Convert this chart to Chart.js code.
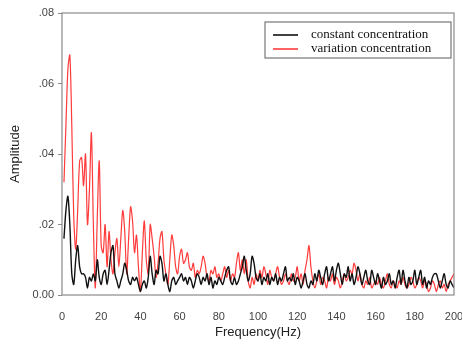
<!DOCTYPE html>
<html lang="en">
<head>
    <meta charset="UTF-8">
    <title>Amplitude spectrum</title>
    <script src="https://cdn.jsdelivr.net/npm/chart.js"></script>
    <style>
        html, body { margin: 0; padding: 0; background: #fff; }
        #wrap { width: 462px; height: 341px; }
    </style>
</head>
<body>
<div id="wrap"><canvas id="spectrumChart" width="462" height="341"></canvas></div>
<script>
// frequency axis (Hz), one point per Hz
const freqs = [];
for (let f = 1; f <= 200; f++) freqs.push(f);

const xTicks = [0, 20, 40, 60, 80, 100, 120, 140, 160, 180, 200];
const yTicks = [0, 0.02, 0.04, 0.06, 0.08];

// amplitude, f = 1..200 Hz
const constantConc = [
    0.016, 0.024, 0.028, 0.020, 0.006, 0.003, 0.010, 0.014, 0.008, 0.006,
    0.006, 0.005, 0.002, 0.005, 0.004, 0.006, 0.004, 0.010, 0.005, 0.003,
    0.006, 0.007, 0.003, 0.007, 0.012, 0.014, 0.006, 0.004, 0.002, 0.004,
    0.006, 0.009, 0.007, 0.004, 0.003, 0.005, 0.004, 0.005, 0.003, 0.001,
    0.003, 0.004, 0.002, 0.005, 0.011, 0.006, 0.003, 0.007, 0.006, 0.011,
    0.009, 0.004, 0.006, 0.003, 0.001, 0.004, 0.005, 0.003, 0.004, 0.005,
    0.006, 0.004, 0.005, 0.003, 0.005, 0.004, 0.002, 0.004, 0.006, 0.005,
    0.003, 0.005, 0.004, 0.006, 0.003, 0.005, 0.002, 0.004, 0.003, 0.005,
    0.004, 0.003, 0.005, 0.007, 0.008, 0.004, 0.003, 0.005, 0.003, 0.004,
    0.006, 0.008, 0.011, 0.007, 0.004, 0.006, 0.011, 0.009, 0.005, 0.004,
    0.006, 0.003, 0.005, 0.004, 0.006, 0.003, 0.005, 0.004, 0.006, 0.003,
    0.005, 0.004, 0.006, 0.008, 0.004, 0.005, 0.004, 0.006, 0.003, 0.005,
    0.004, 0.002, 0.004, 0.006, 0.003, 0.002, 0.004, 0.003, 0.006, 0.004,
    0.007, 0.005, 0.003, 0.006, 0.008, 0.004, 0.006, 0.008, 0.004, 0.007,
    0.009, 0.006, 0.003, 0.006, 0.005, 0.008, 0.004, 0.006, 0.003, 0.005,
    0.008, 0.006, 0.003, 0.005, 0.007, 0.004, 0.003, 0.007, 0.005, 0.003,
    0.006, 0.004, 0.002, 0.005, 0.003, 0.004, 0.006, 0.003, 0.004, 0.002,
    0.005, 0.007, 0.003, 0.007, 0.004, 0.002, 0.005, 0.003, 0.004, 0.007,
    0.003, 0.005, 0.007, 0.003, 0.005, 0.002, 0.004, 0.003, 0.005, 0.006,
    0.006, 0.004, 0.002, 0.004, 0.006, 0.003, 0.002, 0.004, 0.003, 0.002
];

const variationConc = [
    0.032, 0.048, 0.064, 0.068, 0.048, 0.022, 0.013, 0.024, 0.038, 0.039,
    0.031, 0.040, 0.020, 0.030, 0.046, 0.020, 0.002, 0.022, 0.038, 0.014,
    0.012, 0.020, 0.008, 0.018, 0.010, 0.006, 0.012, 0.016, 0.008, 0.016,
    0.024, 0.018, 0.006, 0.016, 0.025, 0.021, 0.012, 0.017, 0.008, 0.001,
    0.012, 0.021, 0.010, 0.006, 0.020, 0.016, 0.011, 0.005, 0.009, 0.016,
    0.018, 0.010, 0.006, 0.003, 0.010, 0.017, 0.014, 0.008, 0.006, 0.011,
    0.013, 0.009, 0.010, 0.012, 0.008, 0.007, 0.009, 0.005, 0.007, 0.006,
    0.008, 0.011, 0.009, 0.005, 0.004, 0.007, 0.006, 0.008, 0.005, 0.006,
    0.004, 0.006, 0.008, 0.005, 0.007, 0.004, 0.006, 0.005, 0.009, 0.012,
    0.007, 0.010, 0.006, 0.010, 0.004, 0.002, 0.005, 0.003, 0.006, 0.004,
    0.007, 0.005, 0.008, 0.006, 0.003, 0.007, 0.005, 0.004, 0.006, 0.008,
    0.005, 0.003, 0.004, 0.006, 0.004, 0.003, 0.006, 0.004, 0.005, 0.008,
    0.004, 0.006, 0.003, 0.007, 0.010, 0.014, 0.008, 0.004, 0.002, 0.004,
    0.006, 0.003, 0.005, 0.004, 0.002, 0.005, 0.004, 0.006, 0.003, 0.005,
    0.004, 0.002, 0.004, 0.006, 0.004, 0.005, 0.007, 0.006, 0.009, 0.007,
    0.004, 0.006, 0.003, 0.002, 0.004, 0.003, 0.005, 0.002, 0.003, 0.004,
    0.003, 0.005, 0.003, 0.002, 0.004, 0.006, 0.003, 0.002, 0.004, 0.003,
    0.002, 0.004, 0.003, 0.005, 0.003, 0.002, 0.003, 0.005, 0.004, 0.002,
    0.003, 0.005, 0.004, 0.002, 0.004, 0.003, 0.001, 0.002, 0.004, 0.003,
    0.001, 0.003, 0.004, 0.002, 0.003, 0.001, 0.003, 0.004, 0.005, 0.006
];

const seriesNames = ['constant concentration', 'variation concentration'];
const seriesColors = ['#111111', '#ff3b3b'];

// frame, axis titles and the boxed legend
const decorPlugin = {
    id: 'decor',
    afterDraw(chart) {
        const ctx = chart.ctx;
        const a = chart.chartArea;
        ctx.save();
        ctx.strokeStyle = '#8a8a8a';
        ctx.lineWidth = 1.2;
        ctx.strokeRect(a.left, a.top, a.right - a.left, a.bottom - a.top);

        ctx.fillStyle = '#222';
        ctx.font = '13px "Liberation Sans", Arial, sans-serif';
        ctx.textAlign = 'center';
        ctx.textBaseline = 'middle';
        ctx.fillText('Frequency(Hz)', (a.left + a.right) / 2, 332);
        ctx.translate(15, (a.top + a.bottom) / 2);
        ctx.rotate(-Math.PI / 2);
        ctx.fillText('Amplitude', 0, 0);
        ctx.restore();

        // legend
        ctx.save();
        const bx = 265, by = 22, bw = 186, bh = 36;
        ctx.fillStyle = '#fff';
        ctx.fillRect(bx, by, bw, bh);
        ctx.strokeStyle = '#777';
        ctx.lineWidth = 1.2;
        ctx.strokeRect(bx, by, bw, bh);
        ctx.font = '13px "Liberation Serif", "Times New Roman", serif';
        ctx.textAlign = 'left';
        ctx.textBaseline = 'middle';
        chart.data.datasets.forEach((ds, i) => {
            const y = 35 + i * 14;
            ctx.strokeStyle = ds.borderColor;
            ctx.lineWidth = 1.6;
            ctx.beginPath();
            ctx.moveTo(273, y);
            ctx.lineTo(298, y);
            ctx.stroke();
            ctx.fillStyle = '#111';
            ctx.fillText(ds.label, 311, y);
        });
        ctx.restore();
    }
};

const ctx = document.getElementById('spectrumChart').getContext('2d');
new Chart(ctx, {
    type: 'line',
    data: {
        labels: freqs,
        datasets: [
            {
                label: seriesNames[0],
                data: freqs.map((f, i) => ({ x: f, y: constantConc[i] })),
                borderColor: seriesColors[0],
                borderWidth: 1.4,
                pointRadius: 0,
                tension: 0.3,
                fill: false
            },
            {
                label: seriesNames[1],
                data: freqs.map((f, i) => ({ x: f, y: variationConc[i] })),
                borderColor: seriesColors[1],
                borderWidth: 1.2,
                pointRadius: 0,
                tension: 0.3,
                fill: false
            }
        ]
    },
    options: {
        responsive: false,
        animation: false,
        layout: { padding: { top: 13, right: 8, left: 0, bottom: 0 } },
        plugins: {
            legend: { display: false },
            tooltip: { enabled: false }
        },
        scales: {
            x: {
                type: 'linear',
                min: 0,
                max: 200,
                afterBuildTicks: (scale) => { scale.ticks = xTicks.map(v => ({ value: v })); },
                afterFit: (scale) => {
                    scale.height = 46;
                    scale.paddingLeft = 0;
                    scale.paddingRight = 0;
                },
                grid: { display: false },
                border: { display: false },
                ticks: {
                    padding: 7,
                    color: '#444',
                    font: { family: '"Liberation Sans", Arial, sans-serif', size: 11 },
                    maxRotation: 0
                }
            },
            y: {
                min: 0,
                max: 0.08,
                afterBuildTicks: (scale) => { scale.ticks = yTicks.map(v => ({ value: v })); },
                afterFit: (scale) => { scale.width = 62; },
                grid: {
                    drawOnChartArea: false,
                    drawTicks: true,
                    tickLength: 4,
                    color: '#8a8a8a'
                },
                border: { display: false },
                ticks: {
                    padding: 4,
                    color: '#444',
                    font: { family: '"Liberation Sans", Arial, sans-serif', size: 11 },
                    callback: (v) => v === 0 ? '0.00' : v.toFixed(2).slice(1)
                }
            }
        }
    },
    plugins: [decorPlugin]
});
</script>
</body>
</html>
